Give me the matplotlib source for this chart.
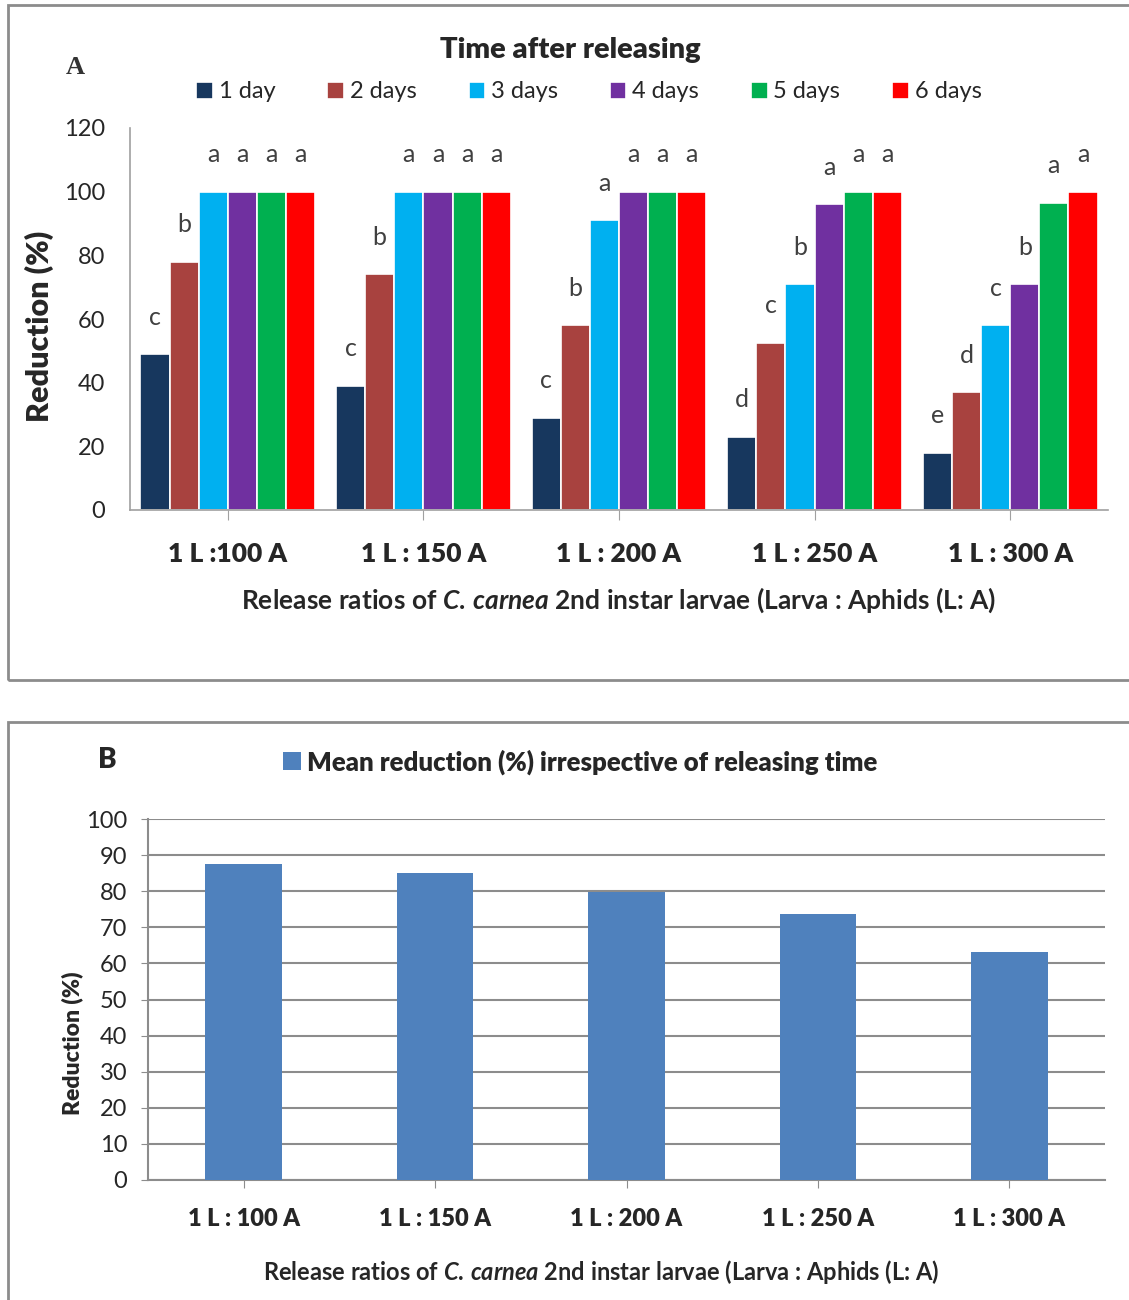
import matplotlib
matplotlib.use("Agg")
import matplotlib.pyplot as plt
import numpy as np
from matplotlib.patches import Rectangle

plt.rcParams['font.family'] = ['Lato', 'DejaVu Sans']
plt.rcParams['mathtext.fontset'] = 'custom'
plt.rcParams['mathtext.it'] = 'Lato:italic:bold'
plt.rcParams['mathtext.rm'] = 'Lato:bold'

categories_a = ["1 L :100 A", "1 L : 150 A", "1 L : 200 A", "1 L : 250 A", "1 L : 300 A"]
categories_b = ["1 L : 100 A", "1 L : 150 A", "1 L : 200 A", "1 L : 250 A", "1 L : 300 A"]
series_names = ["1 day", "2 days", "3 days", "4 days", "5 days", "6 days"]
series_colors = ["#17375E", "#A8423F", "#00B0F0", "#7030A0", "#00B050", "#FF0000"]

day1 = [49, 39, 29, 23, 18]
day2 = [78, 74, 58, 52.5, 37]
day3 = [100, 100, 91, 71, 58]
day4 = [100, 100, 100, 96, 71]
day5 = [100, 100, 100, 100, 96.5]
day6 = [100, 100, 100, 100, 100]

letters_day1 = ["c", "c", "c", "d", "e"]
letters_day2 = ["b", "b", "b", "c", "d"]
letters_day3 = ["a", "a", "a", "b", "c"]
letters_day4 = ["a", "a", "a", "a", "b"]
letters_day5 = ["a", "a", "a", "a", "a"]
letters_day6 = ["a", "a", "a", "a", "a"]

mean_reduction = [87.5, 85, 79.8, 73.7, 63.2]

W, H = 1129, 1300
fig = plt.figure(figsize=(W / 100, H / 100), dpi=100)
fig.patch.set_facecolor("white")

def fx(px):
    return px / W

def fy(py):
    return 1 - py / H

TXT = "#262626"
XLABEL = "Release ratios of $C.\\,carnea$ 2nd instar larvae (Larva : Aphids (L: A)"

# panel frames
fig.add_artist(Rectangle((fx(8), fy(680)), fx(1140 - 8), fy(5) - fy(680),
                         transform=fig.transFigure, fill=False, edgecolor="#8C8C8C", lw=2))
fig.add_artist(Rectangle((fx(8), fy(1310)), fx(1140 - 8), fy(722) - fy(1310),
                         transform=fig.transFigure, fill=False, edgecolor="#8C8C8C", lw=2))

# ---------- Panel A ----------
axA = fig.add_axes([fx(130), fy(510), fx(1108) - fx(130), fy(128) - fy(510)])
series = [day1, day2, day3, day4, day5, day6]
letters = [letters_day1, letters_day2, letters_day3, letters_day4, letters_day5, letters_day6]
x = np.arange(len(categories_a))
bw = 0.149
handles = []
for i, (vals, col) in enumerate(zip(series, series_colors)):
    pos = x - 2.5 * bw + i * bw
    b = axA.bar(pos, vals, width=bw, color=col, edgecolor="white", linewidth=1.2, label=series_names[i])
    handles.append(b)
    for xp, v, lt in zip(pos, vals, letters[i]):
        axA.text(xp, v + 8, lt, ha="center", va="bottom", fontsize=18, color="#404040")

axA.set_xlim(-0.5, 4.5)
axA.set_ylim(0, 120)
axA.set_yticks(np.arange(0, 121, 20))
axA.tick_params(axis="y", length=0, labelsize=17, labelcolor=TXT, pad=18)
axA.set_xticks(x)
axA.set_xticklabels(categories_a, fontsize=19, fontweight="heavy", color=TXT)
axA.tick_params(axis="x", length=7, color="#A0A0A0", pad=16)
for s in ["top", "right"]:
    axA.spines[s].set_visible(False)
for s in ["left", "bottom"]:
    axA.spines[s].set_color("#A0A0A0")
    axA.spines[s].set_linewidth(1.2)
axA.set_ylabel("Reduction (%)", fontsize=22, fontweight="heavy", color=TXT)
axA.yaxis.set_label_coords(-0.0777, 0.48)
axA.set_xlabel(XLABEL, fontsize=19, fontweight="bold", labelpad=14, color=TXT)

fig.text(fx(570), fy(50), "Time after releasing", ha="center", va="center",
         fontsize=21, fontweight="heavy", color=TXT)
fig.text(fx(75), fy(68), "A", ha="center", va="center", fontsize=19, fontweight="bold",
         family=["Liberation Serif", "DejaVu Serif"], color="#333333")
fig.legend(handles=handles, labels=series_names, loc="center",
           bbox_to_anchor=(fx(589), fy(92)), ncol=6, frameon=False, fontsize=17,
           handlelength=0.7, handleheight=0.7, handletextpad=0.25, columnspacing=2.2,
           labelcolor=TXT)

# ---------- Panel B ----------
axB = fig.add_axes([fx(148), fy(1180), fx(1105) - fx(148), fy(819) - fy(1180)])
axB.bar(x, mean_reduction, width=0.4, color="#4F81BD", zorder=3,
        label="Mean reduction (%) irrespective of releasing time")
axB.set_xlim(-0.5, 4.5)
axB.set_ylim(0, 100)
axB.set_yticks(np.arange(0, 101, 10))
axB.yaxis.grid(True, color="#8C8C8C", linewidth=1.5, zorder=0)
axB.set_axisbelow(True)
axB.tick_params(axis="y", length=5, color="#8C8C8C", labelsize=17, labelcolor=TXT, pad=10)
axB.set_xticks(x)
axB.set_xticklabels(categories_b, fontsize=17, fontweight="heavy", color=TXT)
axB.tick_params(axis="x", length=6, color="#8C8C8C", pad=14)
for s in ["top", "right"]:
    axB.spines[s].set_visible(False)
for s in ["left", "bottom"]:
    axB.spines[s].set_color("#8C8C8C")
    axB.spines[s].set_linewidth(1.5)
axB.set_ylabel("Reduction (%)", fontsize=16.5, fontweight="heavy", color=TXT)
axB.yaxis.set_label_coords(-0.068, 0.38)
axB.set_xlabel(XLABEL, fontsize=17, fontweight="bold", color=TXT)
axB.xaxis.set_label_coords(0.474, -0.215)
fig.text(fx(107), fy(760), "B", ha="center", va="center", fontsize=20, fontweight="heavy",
         color=TXT)
hB, lB = axB.get_legend_handles_labels()
fig.legend(hB, lB, loc="center", bbox_to_anchor=(fx(580), fy(762)), frameon=False,
           handlelength=0.7, handleheight=0.7, handletextpad=0.25,
           prop={"weight": "heavy", "size": 18.5}, labelcolor=TXT)

fig.savefig("out.png", dpi=100, facecolor="white")
